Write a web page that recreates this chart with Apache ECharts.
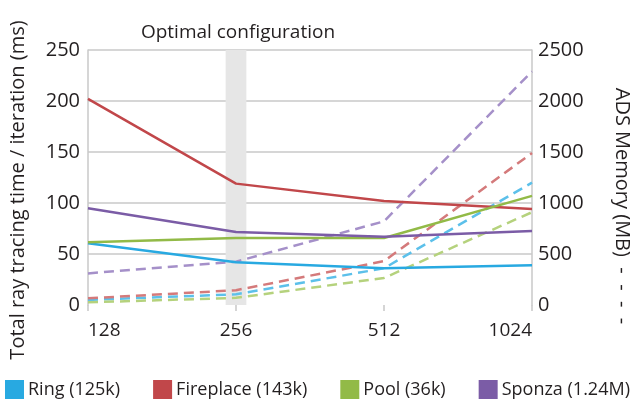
<!DOCTYPE html>
<html>
<head>
<meta charset="utf-8">
<script src="https://cdn.jsdelivr.net/npm/echarts@6/dist/echarts.min.js"></script>
<style>html,body{margin:0;padding:0;background:#fff;}#c{width:631px;height:403px;}</style>
</head>
<body>
<div id="c"></div>
<script>
// Data
const sizes = ['128', '256', '512', '1024'];
const sceneNames = ['Ring (125k)', 'Fireplace (143k)', 'Pool (36k)', 'Sponza (1.24M)'];
// Total ray tracing time / iteration (ms)
const timeRing = [60.5, 42, 36, 39];
const timeFireplace = [202, 119, 102, 94];
const timePool = [61.5, 65.7, 65.7, 107];
const timeSponza = [94.8, 71.5, 67, 72.5];
// ADS memory (MB)
const memRing = [50, 105, 360, 1200];
const memFireplace = [65, 145, 430, 1490];
const memPool = [26, 70, 265, 910];
const memSponza = [310, 425, 820, 2290];
const leftTicks = {min: 0, max: 250, interval: 50};
const rightTicks = {min: 0, max: 2500, interval: 500};
const optimalIndex = 1;

const solidColors = ['#28a9e1', '#c1474a', '#92ba47', '#7b5ca6'];
const dashColors = ['#5cc0ea', '#d47a7b', '#b5d27d', '#a590c9'];
const times = [timeRing, timeFireplace, timePool, timeSponza];
const mems = [memRing, memFireplace, memPool, memSponza];
const FONT = 'Open Sans';
const TXT = '#231f20';
const GRID = '#c8c8c8';

const toPairs = arr => arr.map((v, i) => [i, v]);

const series = [];
mems.forEach((m, k) => {
  series.push({
    name: sceneNames[k] + ' mem', type: 'line', yAxisIndex: 1, data: toPairs(m),
    symbol: 'none', silent: true, z: 2,
    lineStyle: {color: dashColors[k], width: 2.5, type: [10, 6]}
  });
});
times.forEach((t, k) => {
  series.push({
    name: sceneNames[k], type: 'line', yAxisIndex: 0, data: toPairs(t),
    symbol: 'none', itemStyle: {color: solidColors[k]}, z: 3,
    lineStyle: {color: solidColors[k], width: 2.5}
  });
});
series[0].markArea = {
  silent: true,
  itemStyle: {color: '#e6e6e6'},
  data: [[{xAxis: optimalIndex - 0.07}, {xAxis: optimalIndex + 0.07}]]
};
series[0].z = 1;

const chart = echarts.init(document.getElementById('c'), null, {renderer: 'canvas'});
chart.setOption({
  animation: false,
  grid: {left: 88, right: 99, top: 50, bottom: 98, containLabel: false},
  xAxis: {
    type: 'value', min: 0, max: sizes.length - 1, interval: 1,
    axisLine: {show: false},
    axisTick: {show: true, length: 6, lineStyle: {color: GRID, width: 1.5}},
    splitLine: {show: false},
    axisLabel: {
      formatter: v => sizes[v], color: TXT, fontFamily: FONT, fontSize: 19, margin: 16,
      alignMinLabel: 'left', alignMaxLabel: 'right'
    }
  },
  yAxis: [{
    type: 'value', position: 'left', min: leftTicks.min, max: leftTicks.max, interval: leftTicks.interval,
    axisLine: {show: true, lineStyle: {color: GRID, width: 1.5}},
    axisTick: {show: false},
    splitLine: {show: true, showMinLine: false, lineStyle: {color: GRID, width: 1.5}},
    axisLabel: {color: TXT, fontFamily: FONT, fontSize: 20, margin: 8, formatter: v => String(v)}
  }, {
    type: 'value', position: 'right', min: rightTicks.min, max: rightTicks.max, interval: rightTicks.interval,
    axisLine: {show: true, lineStyle: {color: GRID, width: 1.5}},
    axisTick: {show: false},
    splitLine: {show: false},
    axisLabel: {color: TXT, fontFamily: FONT, fontSize: 20, margin: 6, formatter: v => String(v)}
  }],
  legend: {
    data: sceneNames, left: 5, top: 380, width: 630, padding: 0, icon: 'rect',
    itemWidth: 19, itemHeight: 19, itemGap: 33,
    textStyle: {color: TXT, fontFamily: FONT, fontSize: 18, padding: [0, 0, 0, -1]}, selectedMode: false
  },
  graphic: [
    {type: 'text', x: 238, y: 33, style: {text: 'Optimal configuration', fill: TXT, font: '19px "' + FONT + '"', align: 'center', verticalAlign: 'middle'}},
    {type: 'text', x: 18, y: 190, rotation: Math.PI / 2, style: {text: 'Total ray tracing time / iteration (ms)', fill: TXT, font: '20px "' + FONT + '"', align: 'center', verticalAlign: 'middle'}},
    {type: 'text', x: 622, y: 206, rotation: -Math.PI / 2, style: {text: 'ADS Memory (MB)  -  -  -  -', fill: TXT, font: '20px "' + FONT + '"', align: 'center', verticalAlign: 'middle'}}
  ],
  series: series
});
</script>
</body>
</html>
